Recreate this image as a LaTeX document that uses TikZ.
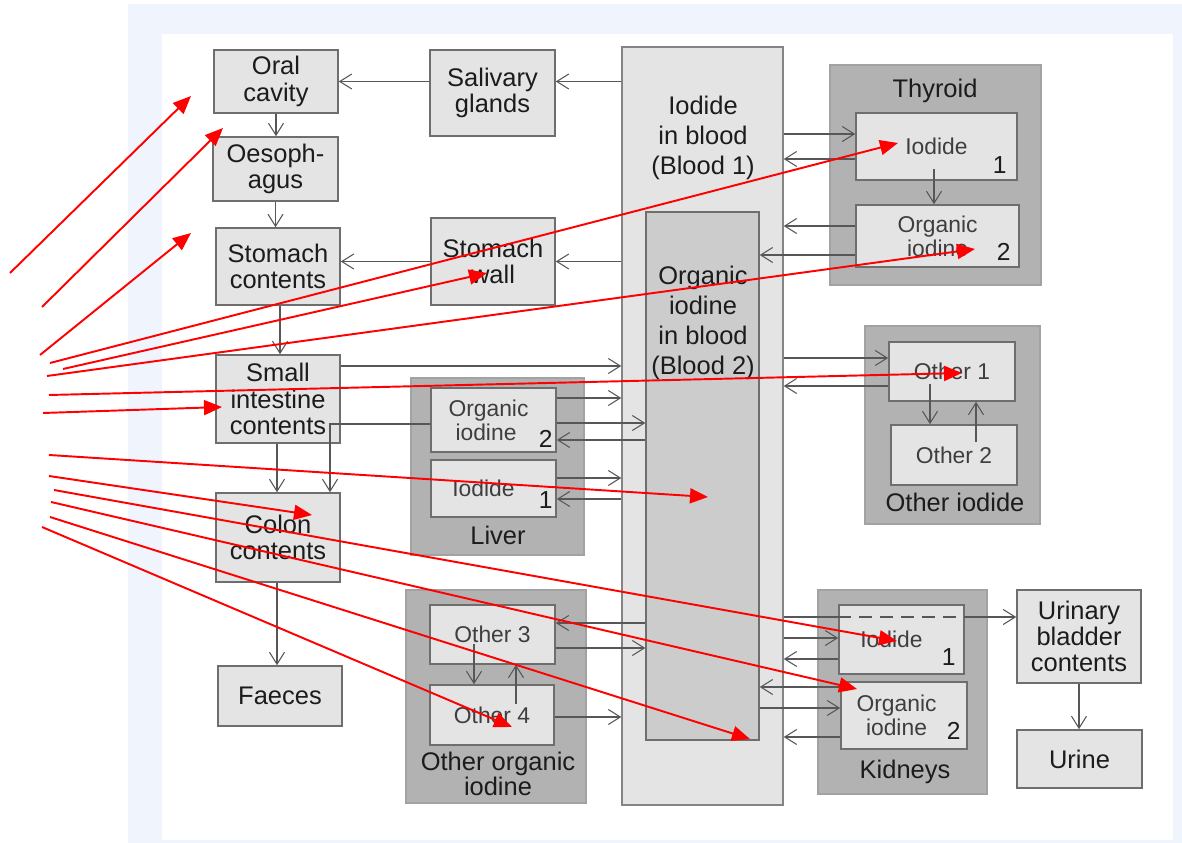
\documentclass[tikz,border=0pt]{standalone}
\usepackage{fontspec}
\setmainfont{Liberation Sans}
\usepackage{tikz}
\usetikzlibrary{positioning, shapes, arrows.meta, calc}

\definecolor{boxfill}{HTML}{E4E4E4}
\definecolor{boxline}{HTML}{6E6E6E}
\definecolor{groupfill}{HTML}{B2B2B2}
\definecolor{groupline}{HTML}{A2A2A2}
\definecolor{bloodfill}{HTML}{CCCCCC}
\definecolor{flowline}{HTML}{575757}
\definecolor{inktext}{HTML}{1C1C1C}
\definecolor{pagetint}{HTML}{F0F4FC}

\tikzset{
  organ/.style={rectangle, draw=boxline, fill=boxfill, line width=0.9pt, inner sep=0pt,
    align=center, text=inktext, font=\fontsize{14.5}{15}\selectfont},
  compartment/.style={organ, text=inktext!85, font=\fontsize{13}{13.5}\selectfont},
  organgroup/.style={rectangle, draw=groupline, fill=groupfill, line width=0.6pt, inner sep=0pt},
  grouplabel/.style={align=center, text=inktext, inner sep=0pt, font=\fontsize{14.5}{12.5}\selectfont},
  bloodtext/.style={align=center, text=inktext, inner sep=0pt, font=\fontsize{14.5}{17}\selectfont},
  num/.style={inner sep=0pt, text=inktext, font=\fontsize{14}{14}\selectfont},
  link/.style={draw=flowline, line width=0.6pt},
  flow/.style={link, -{Straight Barb[length=2.4mm, width=3mm]}},
  note/.style={draw=red, line width=1.1pt, -{Triangle[length=3.6mm, width=3mm]}}
}

\begin{document}
\begin{tikzpicture}[x=0.2mm, y=-0.2mm]
  % Frame
  \useasboundingbox (0,0) rectangle (1182,843);
  \fill[pagetint] (128,4) rectangle (1182,843);
  \fill[white] (162,34) rectangle (1173,840);

  % Groups
  \node[organgroup, minimum width=42.2mm, minimum height=44mm] (thyroid) at (935.5,175) {};
  \node[grouplabel, anchor=base] (thyroidName) at (935,98) {Thyroid};
  \node[organgroup, minimum width=35mm, minimum height=39.6mm] (otherIodide) at (952.5,425) {};
  \node[grouplabel, anchor=base] (otherIodideName) at (955,512) {Other iodide};
  \node[organgroup, minimum width=34.6mm, minimum height=35.4mm] (liver) at (497.5,466.5) {};
  \node[grouplabel, anchor=base] (liverName) at (498,545) {Liver};
  \node[organgroup, minimum width=36mm, minimum height=42.6mm] (otherOrganic) at (496,696.5) {};
  \node[grouplabel] (otherOrganicName) at (498,774) {Other organic\\iodine};
  \node[organgroup, minimum width=33.8mm, minimum height=40.8mm] (kidneys) at (902.5,692) {};
  \node[grouplabel, anchor=base] (kidneysName) at (905,778) {Kidneys};

  % Nodes
  \node[organ, minimum width=24.8mm, minimum height=12.6mm] (oral) at (276,81.5) {Oral\\cavity};
  \node[organ, minimum width=25mm, minimum height=12.8mm] (oesoph) at (275.5,169) {Oesoph-\\agus};
  \node[organ, minimum width=24.8mm, minimum height=15.4mm] (stomach) at (278,266.5) {Stomach\\contents};
  \node[organ, minimum width=24.8mm, minimum height=17.6mm] (smallint) at (278,399) {Small\\intestine\\contents};
  \node[organ, minimum width=24.8mm, minimum height=17.8mm] (colon) at (278,537.5) {Colon\\contents};
  \node[organ, minimum width=24.8mm, minimum height=12mm] (faeces) at (280,696) {Faeces};
  \node[organ, minimum width=25mm, minimum height=17.2mm] (saliv) at (492.5,93) {Salivary\\glands};
  \node[organ, minimum width=24.8mm, minimum height=17.4mm] (swall) at (493,261.5) {Stomach\\wall};
  \node[organ, minimum width=24.8mm, minimum height=18.6mm] (bladder) at (1079,636.5) {Urinary\\bladder\\contents};
  \node[organ, minimum width=25mm, minimum height=11.6mm] (urine) at (1079.5,759) {Urine};

  \node[organ, draw=boxline!85, line width=0.8pt, minimum width=32.2mm, minimum height=151.6mm] (blood1) at (702.5,426) {};
  \node[organ, fill=bloodfill, line width=0.8pt, minimum width=22.6mm, minimum height=105.6mm] (blood2) at (702.5,476) {};
  \node[bloodtext] (blood1Name) at (703,138) {Iodide\\in blood\\(Blood 1)};
  \node[bloodtext] (blood2Name) at (703,323) {Organic\\iodine\\in blood\\(Blood 2)};

  \node[compartment, minimum width=32.2mm, minimum height=13.4mm] (thyIod) at (936.5,146.5) {Iodide};
  \node[compartment, minimum width=32.6mm, minimum height=12.4mm] (thyOrg) at (937.5,236) {Organic\\iodine};
  \node[compartment, minimum width=25.2mm, minimum height=11.8mm] (oth1) at (952,371.5) {Other 1};
  \node[compartment, minimum width=25.2mm, minimum height=12mm] (oth2) at (954,455) {Other 2};
  \node[compartment, minimum width=25mm, minimum height=12.8mm] (livOrg) at (493.5,420) {Organic\hspace*{2mm}\\iodine\hspace*{3mm}};
  \node[compartment, minimum width=25mm, minimum height=11.4mm] (livIod) at (493.5,488.5) {Iodide\hspace*{4mm}};
  \node[compartment, minimum width=25mm, minimum height=11.8mm] (oth3) at (492.5,634.5) {Other 3};
  \node[compartment, minimum width=24.8mm, minimum height=12mm] (oth4) at (492,715) {Other 4};
  \node[compartment, minimum width=25mm, minimum height=13.8mm] (kidIod) at (901.5,639.5) {Iodide\hspace*{4mm}};
  \node[compartment, minimum width=25.2mm, minimum height=13.4mm] (kidOrg) at (904,715.5) {Organic\hspace*{3mm}\\iodine\hspace*{3mm}};

  \node[num, anchor=base east] (thyIodNum) at ([xshift=-2.2mm, yshift=1.4mm]thyIod.south east) {1};
  \node[num, anchor=base east] (thyOrgNum) at ([xshift=-1.8mm, yshift=1.4mm]thyOrg.south east) {2};
  \node[num, anchor=base east] (livOrgNum) at ([xshift=-0.8mm, yshift=1mm]livOrg.south east) {2};
  \node[num, anchor=base east] (livIodNum) at ([xshift=-0.8mm, yshift=1.8mm]livIod.south east) {1};
  \node[num, anchor=base east] (kidIodNum) at ([xshift=-1.8mm, yshift=1.8mm]kidIod.south east) {1};
  \node[num, anchor=base east] (kidOrgNum) at ([xshift=-1.4mm, yshift=2mm]kidOrg.south east) {2};

  % Arrows
  \draw[flow] (saliv.west |- oral.east) -- (oral.east);
  \draw[flow] (blood1.west |- oral.east) -- (saliv.east |- oral.east);
  \draw[flow] (oral.south) -- (oral.south |- oesoph.north);
  \draw[flow] (oesoph.south) -- (oesoph.south |- stomach.north);
  \draw[flow] (swall.west) -- (swall.west -| stomach.east);
  \draw[flow] (blood1.west |- swall.west) -- (swall.east);
  \draw[flow] (stomach.south -| 280,0) -- (smallint.north -| 280,0);
  \draw[flow] (smallint.east |- 0,366) -- (blood1.west |- 0,366);
  \draw[flow] (smallint.south -| 277,0) -- (colon.north -| 277,0);
  \draw[flow] (livOrg.west |- 0,424) -| (colon.north -| 330,0);
  \draw[flow] (colon.south -| 277,0) -- (faeces.north -| 277,0);
  \draw[flow] (bladder.south) -- (bladder.south |- urine.north);

  \draw[flow] (livOrg.east |- 0,398) -- (blood1.west |- 0,398);
  \draw[flow] (livOrg.east |- 0,423) -- (blood2.west |- 0,423);
  \draw[flow] (blood2.west |- 0,440) -- (livOrg.east |- 0,440);
  \draw[flow] (livIod.east |- 0,478) -- (blood1.west |- 0,478);
  \draw[flow] (blood1.west |- 0,499) -- (livIod.east |- 0,499);

  \draw[flow] (blood2.west |- 0,623) -- (oth3.east |- 0,623);
  \draw[flow] (oth3.east |- 0,648) -- (blood2.west |- 0,648);
  \draw[flow] (oth4.east |- 0,717) -- (blood1.west |- 0,717);
  \draw[flow] ($(oth3.south -| 474,0)+(0,-21)$) -- (oth4.north -| 474,0);
  \draw[flow] ($(oth4.north -| 516,0)+(0,20)$) -- (oth3.south -| 516,0);

  \draw[flow] (blood1.east |- 0,134) -- (thyIod.west |- 0,134);
  \draw[flow] (thyIod.west |- 0,159) -- (blood1.east |- 0,159);
  \draw[flow] ($(thyIod.south -| 934,0)+(0,-12)$) -- (thyOrg.north -| 934,0);
  \draw[flow] (thyOrg.west |- 0,226) -- (blood1.east |- 0,226);
  \draw[flow] (thyOrg.west |- 0,255) -- (blood2.east |- 0,255);

  \draw[flow] (blood1.east |- 0,358) -- (oth1.west |- 0,358);
  \draw[flow] (oth1.west |- 0,386) -- (blood1.east |- 0,386);
  \draw[flow] ($(oth1.south -| 930,0)+(0,-18)$) -- (oth2.north -| 930,0);
  \draw[flow] ($(oth2.north -| 976,0)+(0,18)$) -- (oth1.south -| 976,0);

  \draw[link] (blood1.east |- 0,617) -- (kidIod.west |- 0,617);
  \draw[link, dash pattern=on 2.6mm off 1.6mm] (kidIod.west |- 0,617) -- (kidIod.east |- 0,617);
  \draw[flow] (kidIod.east |- 0,617) -- (bladder.west |- 0,617);
  \draw[flow] (blood1.east |- 0,638) -- (kidIod.west |- 0,638);
  \draw[flow] (kidIod.west |- 0,659) -- (blood1.east |- 0,659);
  \draw[flow] (kidOrg.west |- 0,687) -- (blood2.east |- 0,687);
  \draw[flow] (blood2.east |- 0,708) -- (kidOrg.west |- 0,708);
  \draw[flow] (kidOrg.west |- 0,737) -- (blood1.east |- 0,737);

  % Red pointers
  \foreach \i/\tx/\ty/\hx/\hy in {1/10/273/191/96, 2/42/307/223/128, 3/40/355/191/233,
      4/50/363/898/143, 5/63/369/487/273, 6/47/376/975/249, 7/49/395/962/373,
      8/43/413/222/407, 9/49/455/708/497, 10/49/476/312/515, 11/54/490/897/641,
      12/51/502/857/689, 13/50/517/750/739, 14/42/527/512/727} {
    \coordinate (tail\i) at (\tx,\ty);
    \coordinate (tip\i) at (\hx,\hy);
    \draw[note] (tail\i) -- (tip\i);
  }
\end{tikzpicture}
\end{document}
